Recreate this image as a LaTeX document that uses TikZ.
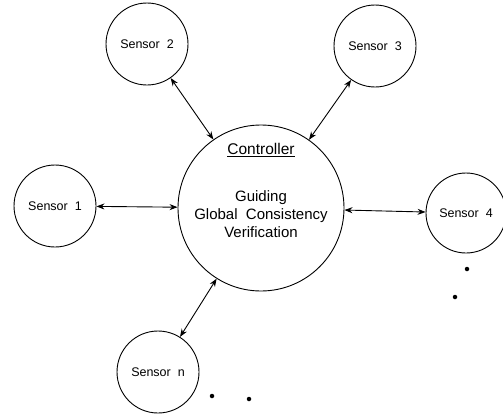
\documentclass[tikz,border=0pt]{standalone}
\usepackage{fontspec}
\setmainfont{Liberation Sans}
\usetikzlibrary{arrows.meta}

\begin{document}
\begin{tikzpicture}[x=1pt,y=-1pt]
\tikzstyle{sensor} = [circle, minimum size=82pt, inner sep=0pt, text centered, draw=black, line width=0.9pt, font=\fontsize{12.5}{15}\selectfont]
\tikzstyle{link} = [{Stealth[length=8pt,width=6pt]}-{Stealth[length=8pt,width=6pt]}, line width=0.9pt]
\tikzstyle{dot} = [circle, fill=black, inner sep=0pt, minimum size=4.5pt]

\useasboundingbox (0,0) rectangle (503,415);

\node (ctrl) [sensor, minimum size=166pt] at (261,208) {};
\node (ctrltitle) at (261,150) {\fontsize{15.5}{18}\selectfont\underline{Controller}};
\node (ctrltext) [align=center, font=\fontsize{15}{18}\selectfont] at (261,214) {Guiding\\Global~~Consistency\\Verification};

\node (s1) [sensor] at (55,206) {Sensor~~1};
\node (s2) [sensor] at (147,44) {Sensor~~2};
\node (s3) [sensor] at (375,46) {Sensor~~3};
\node (s4) [sensor, minimum size=80pt] at (466,213) {Sensor~~4};
\node (sn) [sensor] at (158,372) {Sensor~~n};

\draw [link] (s1) -- (ctrl);
\draw [link] (s2) -- (ctrl);
\draw [link] (s3) -- (ctrl);
\draw [link] (s4) -- (ctrl);
\draw [link] (sn) -- (ctrl);

\node (d1) [dot] at (467,269) {};
\node (d2) [dot] at (455,297) {};
\node (d3) [dot] at (212,396) {};
\node (d4) [dot] at (249,399) {};
\end{tikzpicture}
\end{document}
